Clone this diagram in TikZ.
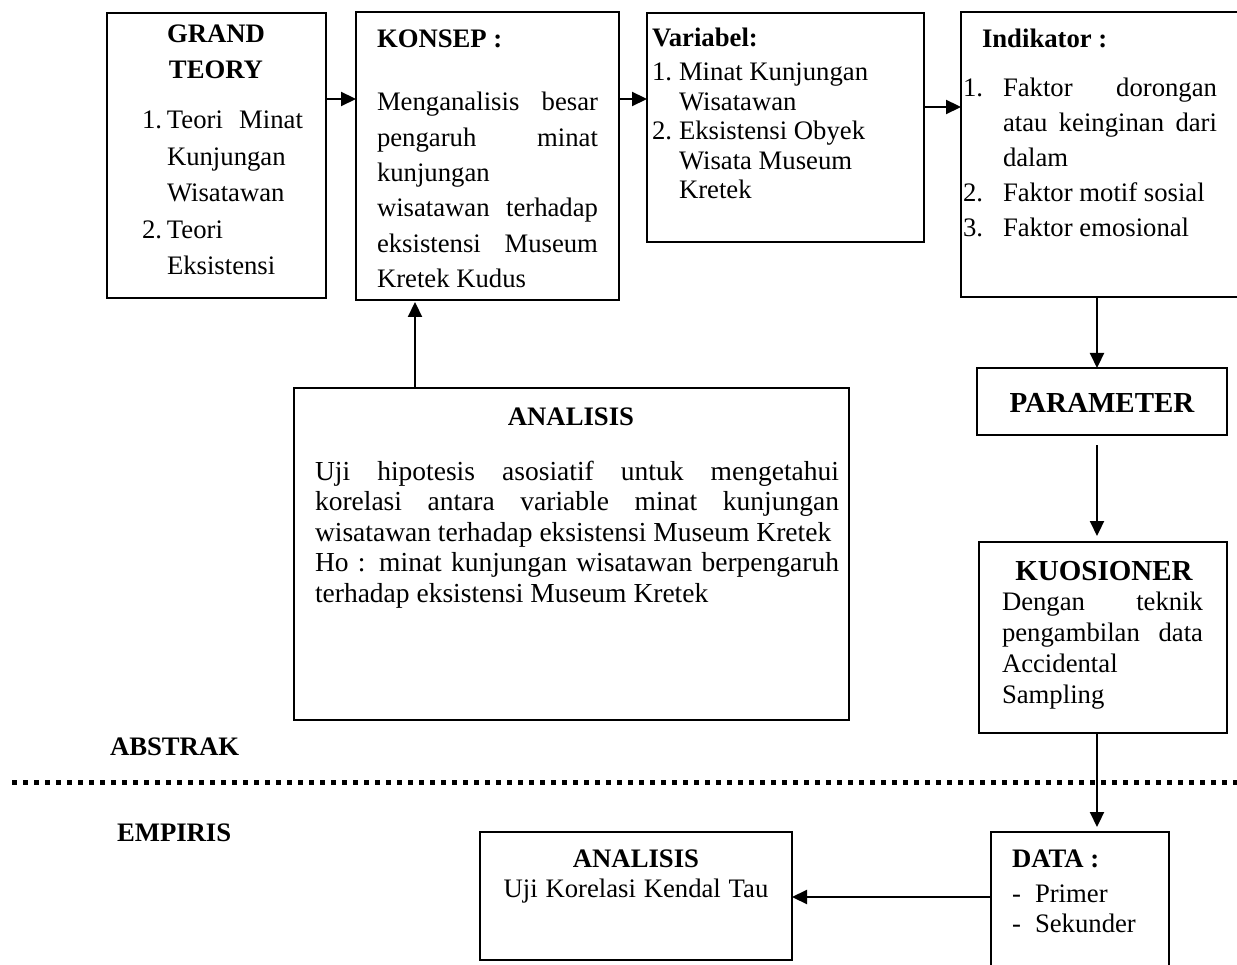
\documentclass[tikz,border=0pt]{standalone}
\usepackage{fontspec}
\setmainfont{Liberation Serif}
\usetikzlibrary{arrows.meta}
\newcommand{\ns}{\spaceskip=0pt\xspaceskip=0pt\relax}
\newcommand{\jl}[1]{\makebox[\linewidth][s]{\ns #1}}
\begin{document}
\begin{tikzpicture}[x=1pt,y=-1pt,
  box/.style={draw, line width=1.8pt, anchor=north west, inner sep=0pt, outer sep=0pt},
  txt/.style={anchor=base west, inner sep=0pt, outer sep=0pt, align=left},
  body/.style={font=\fontsize{26.7}{#1}\selectfont},
  head/.style={font=\bfseries\fontsize{26.7}{36}\selectfont},
  bighead/.style={font=\bfseries\fontsize{29}{34}\selectfont},
  arr/.style={line width=2.2pt, -{Triangle[length=15pt,width=14pt]}},
  dotline/.style={line width=5pt, dash pattern=on 5pt off 6pt}]
\useasboundingbox (0,0) rectangle (1237,965);

% boxes
\node[box, minimum width=219pt, minimum height=285pt] (grand) at (107,13) {};
\node[box, minimum width=263pt, minimum height=288pt] (konsep) at (356,12) {};
\node[box, minimum width=277pt, minimum height=229pt] (var) at (647,13) {};
\node[box, minimum width=300pt, minimum height=285pt] (ind) at (961,12) {};
\node[box, minimum width=250pt, minimum height=67pt] (param) at (977,368) {};
\node[box, minimum width=248pt, minimum height=191pt] (kuos) at (979,542) {};
\node[box, minimum width=555pt, minimum height=332pt] (anal) at (294,388) {};
\node[box, minimum width=312pt, minimum height=128pt] (anal2) at (480,832) {};
\node[box, minimum width=178pt, minimum height=160pt] (data) at (991,832) {};

% texts
\node[txt, head, text width=200pt, align=center, anchor=base] (grandH) at (216,43) {\ns GRAND\\TEORY};
\node[txt, body=36.5, text width=180pt] (grandT) at (142,129) {\ns
\makebox[25pt][l]{1.}\makebox[136pt][s]{\ns Teori Minat}\\
\hspace*{25pt}Kunjungan\\
\hspace*{25pt}Wisatawan\\
\makebox[25pt][l]{2.}Teori\\
\hspace*{25pt}Eksistensi};

\node[txt, head] (konsepH) at (377,48) {KONSEP :};
\node[txt, body=35.3, text width=221pt] (konsepT) at (377,111) {\ns
\jl{Menganalisis besar}\\
\jl{pengaruh minat}\\
kunjungan\\
\jl{wisatawan terhadap}\\
\jl{eksistensi Museum}\\
Kretek Kudus};

\node[txt, head] (varH) at (652,47) {Variabel:};
\node[txt, body=29.5, text width=265pt] (varT) at (652,81) {\ns
\makebox[27pt][l]{1.}Minat Kunjungan\\
\hspace*{27pt}Wisatawan\\
\makebox[27pt][l]{2.}Eksistensi Obyek\\
\hspace*{27pt}Wisata Museum\\
\hspace*{27pt}Kretek};

\node[txt, head] (indH) at (982,48) {Indikator :};
\node[txt, body=35, text width=260pt] (indT) at (963,97) {\ns
\makebox[40pt][l]{1.}\makebox[214pt][s]{\ns Faktor dorongan}\\
\hspace*{40pt}\makebox[214pt][s]{\ns atau keinginan dari}\\
\hspace*{40pt}dalam\\
\makebox[40pt][l]{2.}Faktor motif sosial\\
\makebox[40pt][l]{3.}Faktor emosional};

\node[txt, bighead, anchor=base] (paramT) at (1102,413) {PARAMETER};

\node[txt, bighead, anchor=base] (kuosH) at (1104,580) {KUOSIONER};
\node[txt, body=31, text width=201pt] (kuosT) at (1002,610) {\ns
\jl{Dengan teknik}\\
\jl{pengambilan data}\\
Accidental\\
Sampling};

\node[txt, head, anchor=base] (analH) at (571,425) {ANALISIS};
\node[txt, font=\fontsize{27.5}{30.5}\selectfont, text width=524pt] (analT) at (315,480) {\ns
\jl{Uji hipotesis asosiatif untuk mengetahui}\\
\jl{korelasi antara variable minat kunjungan}\\
wisatawan terhadap eksistensi Museum Kretek\\
\jl{Ho : minat kunjungan wisatawan berpengaruh}\\
terhadap eksistensi Museum Kretek};

\node[txt, body=30, text width=300pt, align=center, anchor=base] (anal2T) at (636,867) {\ns
\textbf{ANALISIS}\\
Uji Korelasi Kendal Tau};

\node[txt, head] (dataH) at (1012,867) {DATA :};
\node[txt, body=30, text width=150pt] (dataT) at (1012,902) {\ns
\makebox[23pt][l]{-}Primer\\
\makebox[23pt][l]{-}Sekunder};

\node[txt, head] (abstrak) at (110,755) {ABSTRAK};
\node[txt, head] (empiris) at (117,841) {EMPIRIS};

% dotted divider
\coordinate (dl) at (12,782);
\coordinate (dr) at (1245,782);
\draw[dotline] (dl) -- (dr);

% arrows
\draw[arr] ([yshift=-86pt]grand.north east) -- ([yshift=-87pt]konsep.north west);
\draw[arr] ([yshift=-87pt]konsep.north east) -- ([yshift=-86pt]var.north west);
\draw[arr] ([yshift=-94pt]var.north east) -- ([yshift=-95pt]ind.north west);
\draw[arr] ([xshift=136pt]ind.south west) -- ([xshift=120pt]param.north west);
\draw[arr] ([xshift=120pt,yshift=-10pt]param.south west) -- ([xshift=118pt,yshift=6pt]kuos.north west);
\draw[arr] ([xshift=121pt]anal.north west) -- ([xshift=59pt,yshift=-2pt]konsep.south west);
\draw[arr] ([xshift=118pt]kuos.south west) -- ([xshift=106pt,yshift=5pt]data.north west);
\draw[arr] ([yshift=-65pt]data.north west) -- ([yshift=-65pt]anal2.north east);
\end{tikzpicture}
\end{document}
